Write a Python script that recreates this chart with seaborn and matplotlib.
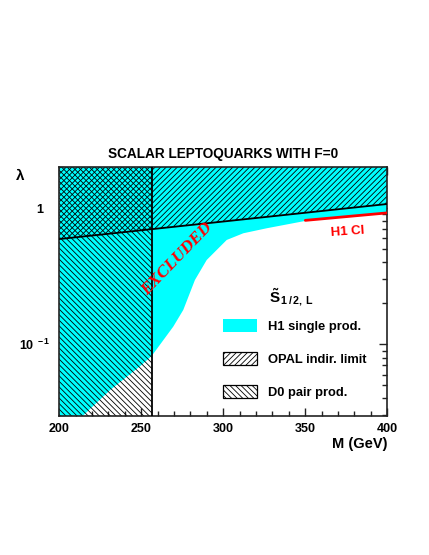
import numpy as np
import pandas as pd
import seaborn as sns
import matplotlib.pyplot as plt
from matplotlib.patches import Patch
from matplotlib.ticker import MultipleLocator, LogLocator, NullFormatter

# --- data ---
# H1 single production exclusion boundary (excluded above)
m_h1 = [200, 214.6, 230.9, 249.2, 256.3, 269.5, 275.6, 282.7, 289.9, 296.0,
        302.1, 312.2, 326.5, 350.9, 400]
lam_h1 = [0.020, 0.030, 0.046, 0.069, 0.082, 0.135, 0.179, 0.297, 0.417, 0.494,
          0.585, 0.655, 0.713, 0.811, 0.93]

# OPAL indirect limit (excluded above)
m_opal = [200, 400]
lam_opal = [0.594, 1.075]

# D0 pair production (excluded below this mass)
d0_limit = 256.3

# H1 contact interaction line
m_ci = [350, 400]
lam_ci = [0.815, 0.925]

legend_labels = ['H1 single prod.', 'OPAL indir. limit', 'D0 pair prod.']

x_range = (200, 400)
y_range = (0.0299, 2.02)

# --- style ---
sns.set_theme(style="ticks")
plt.rcParams['font.family'] = ['Liberation Sans', 'DejaVu Sans']
plt.rcParams['font.weight'] = 'bold'
plt.rcParams['text.color'] = 'black'
plt.rcParams['axes.labelcolor'] = 'black'
plt.rcParams['xtick.color'] = 'black'
plt.rcParams['ytick.color'] = 'black'
plt.rcParams['mathtext.fontset'] = 'custom'
plt.rcParams['mathtext.rm'] = 'Liberation Sans:bold'
plt.rcParams['mathtext.bf'] = 'Liberation Sans:bold'
plt.rcParams['mathtext.it'] = 'Liberation Sans:bold'
plt.rcParams['hatch.linewidth'] = 0.6

fig = plt.figure(figsize=(4.29, 5.55), dpi=100)
ax = fig.add_axes([0.1382, 0.2510, 0.7646, 0.4486])
ax.set_yscale('log')
ax.set_xlim(*x_range)
ax.set_ylim(*y_range)

# H1 excluded region (cyan)
ax.fill_between(m_h1, lam_h1, y_range[1], facecolor='#00ffff', edgecolor='none', zorder=1)

# OPAL hatched region
ax.fill_between(m_opal, lam_opal, y_range[1], facecolor='none', edgecolor='black',
                hatch='//////', linewidth=0, zorder=2)

# D0 hatched region
ax.axvspan(x_range[0], d0_limit, facecolor='none', edgecolor='black',
           hatch='\\' * 6, linewidth=0, zorder=2)

# boundary lines
opal_df = pd.DataFrame({'M': m_opal, 'lam': lam_opal})
sns.lineplot(data=opal_df, x='M', y='lam', ax=ax, color='black', linewidth=1.3, zorder=3)
ax.axvline(d0_limit, color='black', linewidth=1.3, zorder=3)
ci_df = pd.DataFrame({'M': m_ci, 'lam': lam_ci})
sns.lineplot(data=ci_df, x='M', y='lam', ax=ax, color='red', linewidth=2.0, zorder=3)

# annotations
ax.text(272, 0.425, 'EXCLUDED', color='red', rotation=46, ha='center', va='center',
        family='Liberation Serif', style='italic', fontweight='bold', fontsize=12.5, zorder=4)
ax.text(376, 0.673, 'H1 Cl', color='red', rotation=4, ha='center', va='center',
        fontsize=9.5, fontweight='bold', zorder=4)

# axes cosmetics
ax.xaxis.set_major_locator(MultipleLocator(50))
ax.xaxis.set_minor_locator(MultipleLocator(10))
ax.set_yticks([0.1, 1], labels=[r'10$^{\,\,-1}$', '1  '])
ax.yaxis.set_minor_locator(LogLocator(base=10, subs=np.arange(2, 10)))
ax.yaxis.set_minor_formatter(NullFormatter())
ax.tick_params(which='both', direction='in', top=True, right=True, labelsize=9,
               color='#222222', width=1.0)
ax.tick_params(which='major', length=6, pad=5)
ax.tick_params(axis='y', which='major', pad=6)
ax.tick_params(which='minor', length=3.5)
for side in ax.spines.values():
    side.set_linewidth(1.2)
    side.set_color('#222222')
ax.set_xlabel('M (GeV)', fontsize=10.5, fontweight='bold', loc='right', labelpad=2)
ax.set_ylabel('')
ax.text(-0.12, 1.0, r'$\lambda$', transform=ax.transAxes, fontsize=11, ha='center', va='top')
ax.set_title('SCALAR LEPTOQUARKS WITH F=0', fontsize=9.8, fontweight='bold', pad=6)

# legend
handles = [
    Patch(facecolor='#00ffff', edgecolor='none'),
    Patch(facecolor='white', edgecolor='black', hatch='//////', linewidth=0.9),
    Patch(facecolor='white', edgecolor='black', hatch='\\' * 6, linewidth=0.9),
]
ax.legend(handles, legend_labels, loc='upper left', bbox_to_anchor=(0.484, 0.409),
          frameon=False, fontsize=9.3, handlelength=2.65, handleheight=1.12,
          labelspacing=1.5, handletextpad=0.8, borderaxespad=0)
ax.text(0.706, 0.477, r'$\tilde{S}_{\,1\,/\,2,\,L}$', transform=ax.transAxes,
        fontsize=11, ha='center', va='center')

fig.savefig('out.png', dpi=100)
